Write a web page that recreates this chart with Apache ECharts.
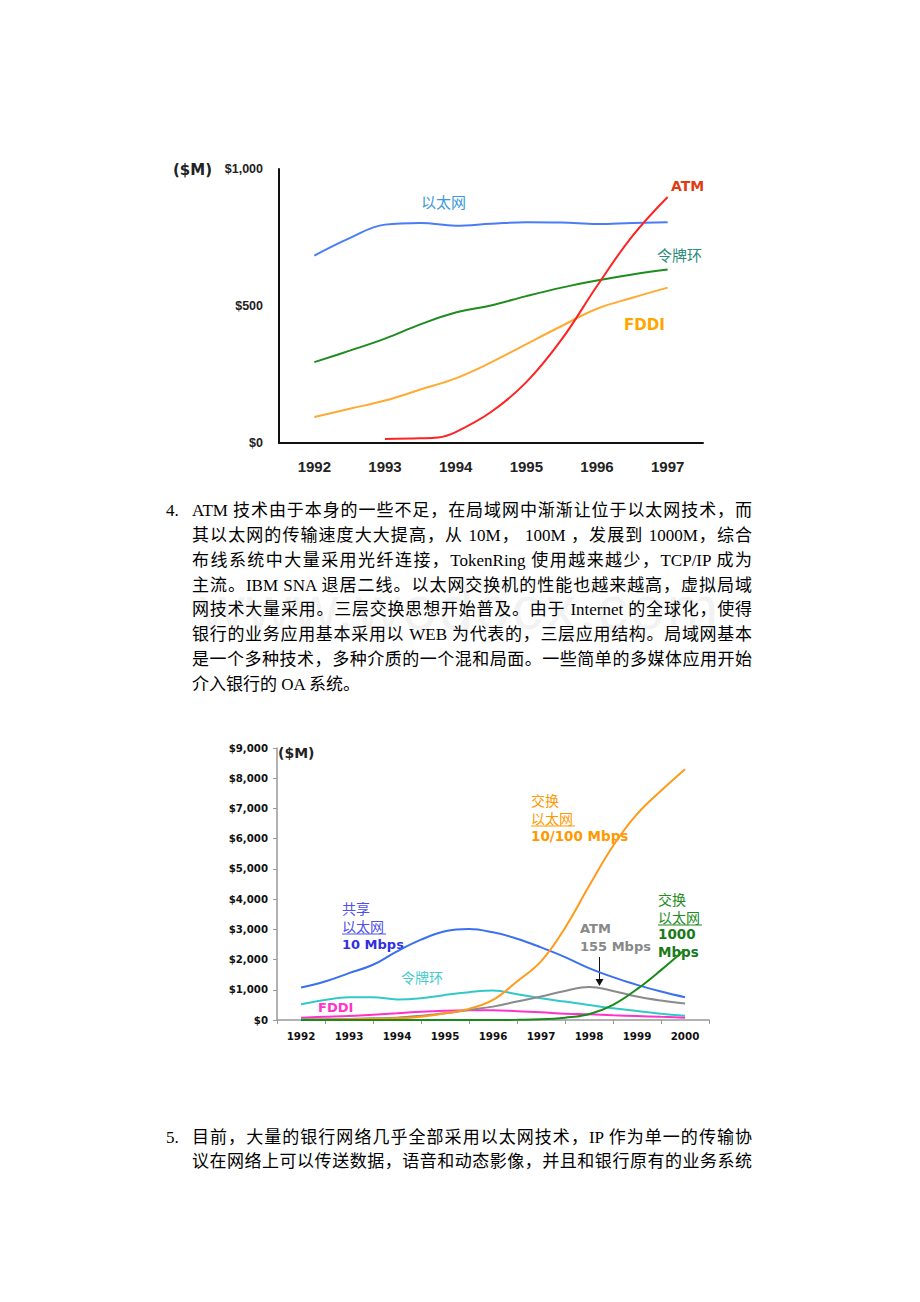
<!DOCTYPE html>
<html>
<head>
<meta charset="utf-8">
<script src="https://cdn.jsdelivr.net/npm/echarts@6/dist/echarts.min.js"></script>
<style>
html,body{margin:0;padding:0;background:#fff;}
#page{position:relative;width:920px;height:1302px;overflow:hidden;}
#chart{position:absolute;left:0;top:0;width:920px;height:1302px;}
.wm{position:absolute;left:0;width:920px;top:572px;text-align:center;font:62px "Liberation Sans",Arial,sans-serif;color:rgba(0,0,0,0.05);letter-spacing:2px;}
.para{position:absolute;left:192px;width:560px;font-family:"Liberation Serif","Noto Sans CJK SC",serif;font-size:17px;color:#000;}
.para div{text-align:justify;text-align-last:justify;}
.para div.last{text-align-last:left;}
.num{position:absolute;left:166px;font-family:"Liberation Serif",serif;font-size:17px;color:#000;}
</style>
</head>
<body>
<div id="page">
<div id="chart"></div>
<div class="wm">www.wodocx.com</div>
<div class="num" style="top:499px;line-height:24.86px;">4.</div>
<div class="para" id="p4" style="top:499px;line-height:24.86px;"></div>
<div class="num" style="top:1126px;line-height:24px;">5.</div>
<div class="para" id="p5" style="top:1126px;line-height:24px;"></div>
</div>
<script>
// ---------- text ----------
const para4Lines = [
  "ATM 技术由于本身的一些不足，在局域网中渐渐让位于以太网技术，而",
  "其以太网的传输速度大大提高，从 10M，  100M ，发展到 1000M，综合",
  "布线系统中大量采用光纤连接，TokenRing 使用越来越少，TCP/IP 成为",
  "主流。IBM SNA 退居二线。以太网交换机的性能也越来越高，虚拟局域",
  "网技术大量采用。三层交换思想开始普及。由于 Internet 的全球化，使得",
  "银行的业务应用基本采用以 WEB 为代表的，三层应用结构。局域网基本",
  "是一个多种技术，多种介质的一个混和局面。一些简单的多媒体应用开始",
  "介入银行的 OA 系统。"
];
const para5Lines = [
  "目前，大量的银行网络几乎全部采用以太网技术，IP 作为单一的传输协",
  "议在网络上可以传送数据，语音和动态影像，并且和银行原有的业务系统"
];
function fill(id, lines, lastIsShort){
  const el = document.getElementById(id);
  lines.forEach((t,i)=>{
    const d = document.createElement('div');
    d.textContent = t;
    if (lastIsShort && i === lines.length-1) d.className = 'last';
    el.appendChild(d);
  });
}
fill('p4', para4Lines, true);
fill('p5', para5Lines, false);

// ---------- chart 1 data ----------
const years1 = ['1992','1993','1994','1995','1996','1997'];
const yTicks1 = ['$0','$500','$1,000'];
const ethernet1 = [[1992,684],[1992.5,748],[1993,797],[1993.5,803],[1994,793],[1994.5,800],[1995,806],[1995.5,805],[1996,799],[1996.5,803],[1997,806]];
const tokenRing1 = [[1992,295],[1992.5,337],[1993,381],[1993.5,433],[1994,476],[1994.5,502],[1995,536],[1995.5,567],[1996,593],[1996.5,615],[1997,633]];
const fddi1 = [[1992,95],[1992.5,125],[1993,155],[1993.5,195],[1994,236],[1994.5,294],[1995,361],[1995.5,427],[1996,490],[1996.5,530],[1997,567]];
const atm1 = [[1993,15],[1993.5,17],[1993.75,20],[1994,40],[1994.5,113],[1995,222],[1995.5,378],[1996,573],[1996.5,755],[1997,898]];

// ---------- chart 2 data ----------
const years2 = ['1992','1993','1994','1995','1996','1997','1998','1999','2000'];
const yTicks2 = ['$0','$1,000','$2,000','$3,000','$4,000','$5,000','$6,000','$7,000','$8,000','$9,000'];
const shared10 = [[1992,1074],[1992.5,1273],[1993,1550],[1993.5,1827],[1994,2270],[1994.5,2658],[1995,2935],[1995.5,3012],[1996,2901],[1996.5,2691],[1997,2403],[1997.5,2082],[1998,1716],[1998.5,1417],[1999,1163],[1999.5,941],[2000,753]];
const tokenRing2 = [[1992,520],[1992.5,664],[1993,753],[1993.5,753],[1994,680],[1994.5,720],[1995,830],[1995.5,919],[1996,975],[1996.5,853],[1997,720],[1997.5,609],[1998,498],[1998.5,388],[1999,299],[1999.5,210],[2000,144]];
const fddi2 = [[1992,78],[1992.5,105],[1993,133],[1993.5,177],[1994,221],[1994.5,277],[1995,310],[1995.5,321],[1996,321],[1996.5,288],[1997,255],[1997.5,210],[1998,188],[1998.5,155],[1999,133],[1999.5,105],[2000,78]];
const atm2 = [[1992,22],[1992.5,27],[1993,33],[1993.5,55],[1994,78],[1994.5,140],[1995,221],[1995.5,332],[1996,443],[1996.5,609],[1997,775],[1997.5,963],[1998,1095],[1998.5,963],[1999,775],[1999.5,642],[2000,543]];
const switched100 = [[1992,0],[1992.5,10],[1993,22],[1993.5,38],[1994,55],[1994.5,111],[1995,221],[1995.5,365],[1996,664],[1996.5,1274],[1997,1938],[1997.5,3045],[1998,4430],[1998.5,5759],[1999,6811],[1999.5,7586],[2000,8300]];
const switched1000 = [[1992,0],[1993,0],[1994,0],[1995,0],[1996,0],[1996.5,5],[1997,22],[1997.5,78],[1998,188],[1998.5,500],[1999,1020],[1999.5,1650],[2000,2330]];

const FONT = 'DejaVu Sans';
const ARIAL = 'Liberation Sans';
const CJK = 'Noto Sans CJK SC';

function line(name, data, color, xi, yi, width){
  return {name, type:'line', data, xAxisIndex:xi, yAxisIndex:yi, smooth:0.4,
    showSymbol:false, symbol:'none', lineStyle:{color, width:width||2}, itemStyle:{color}, silent:true, animation:false};
}
function txt(text, x, y, fill, size, weight, family){
  return {type:'text', x, y, style:{text, fill, fontSize:size, fontWeight:weight||'normal', fontFamily:family||FONT, align:'left', verticalAlign:'middle'}, silent:true};
}
function uline(x1, x2, y, color){
  return {type:'line', shape:{x1, y1:y, x2, y2:y}, style:{stroke:color, lineWidth:1.2}, silent:true};
}

const chart = echarts.init(document.getElementById('chart'), null, {renderer:'svg', width:920, height:1302});
chart.setOption({
  animation:false,
  backgroundColor:'transparent',
  grid:[
    {left:279, top:169, width:424, height:274},
    {left:277, top:748, width:432, height:272}
  ],
  xAxis:[
    {type:'category', gridIndex:0, data:years1, boundaryGap:true,
      axisLine:{lineStyle:{color:'#111', width:2}}, axisTick:{show:false},
      axisLabel:{color:'#222', fontWeight:'bold', fontSize:15, fontFamily:ARIAL, margin:16}},
    {type:'value', gridIndex:0, min:1991.5, max:1997.5, show:false},
    {type:'category', gridIndex:1, data:years2, boundaryGap:true,
      axisLine:{lineStyle:{color:'#999', width:1.5}}, axisTick:{show:true, length:4, lineStyle:{color:'#999'}},
      axisLabel:{color:'#111', fontWeight:'bold', fontSize:10.3, fontFamily:FONT, margin:11}},
    {type:'value', gridIndex:1, min:1991.5, max:2000.5, show:false}
  ],
  yAxis:[
    {type:'value', gridIndex:0, min:0, max:1000, interval:500,
      axisLine:{show:true, lineStyle:{color:'#111', width:2}}, axisTick:{show:false}, splitLine:{show:false},
      axisLabel:{color:'#222', fontWeight:'bold', fontSize:12.5, fontFamily:ARIAL, margin:16,
        formatter:v=>yTicks1[Math.round(v/500)]}},
    {type:'value', gridIndex:1, min:0, max:9000, interval:1000,
      axisLine:{show:true, lineStyle:{color:'#999', width:1.5}}, axisTick:{show:true, length:4, lineStyle:{color:'#999'}}, splitLine:{show:false},
      axisLabel:{color:'#111', fontWeight:'bold', fontSize:10.2, fontFamily:FONT, margin:9,
        formatter:v=>yTicks2[Math.round(v/1000)]}}
  ],
  series:[
    line('以太网', ethernet1, '#4a7cf5', 1, 0),
    line('令牌环', tokenRing1, '#1e8c1e', 1, 0),
    line('FDDI', fddi1, '#ffaa33', 1, 0),
    line('ATM', atm1, '#ff2222', 1, 0),
    line('共享以太网 10 Mbps', shared10, '#3a70f0', 3, 1),
    line('令牌环', tokenRing2, '#33c8c8', 3, 1),
    line('FDDI', fddi2, '#ff33cc', 3, 1),
    line('ATM 155 Mbps', atm2, '#8a8a8a', 3, 1),
    line('交换以太网 10/100 Mbps', switched100, '#ff9a1a', 3, 1),
    line('交换以太网 1000 Mbps', switched1000, '#1a8a1a', 3, 1)
  ],
  graphic:[
    // chart 1 annotations
    txt('($M)', 173, 170, '#222', 15, 'bold'),
    txt('以太网', 421, 201, '#3a9ad9', 15, 'normal', CJK),
    txt('ATM', 671, 186, '#e03c14', 14, 'bold'),
    txt('令牌环', 657, 254, '#2a8c7a', 15, 'normal', CJK),
    txt('FDDI', 624, 325, '#ffa500', 15, 'bold'),
    // chart 2 annotations
    txt('($M)', 278, 753, '#222', 14, 'bold'),
    txt('交换', 531, 800, '#ff9900', 14, 'normal', CJK),
    txt('以太网', 531, 818, '#ff9900', 14, 'normal', CJK),
    uline(531, 575, 826, '#ff9900'),
    txt('10/100 Mbps', 531, 836, '#ff9900', 13.5, 'bold'),
    txt('共享', 342, 908, '#5050e8', 14, 'normal', CJK),
    txt('以太网', 342, 926, '#5050e8', 14, 'normal', CJK),
    uline(342, 386, 934, '#5050e8'),
    txt('10 Mbps', 342, 944, '#3030e0', 13, 'bold'),
    txt('ATM', 580, 928, '#888888', 13, 'bold'),
    txt('155 Mbps', 580, 946, '#888888', 13, 'bold'),
    {type:'line', shape:{x1:599.5, y1:957, x2:599.5, y2:981}, style:{stroke:'#111', lineWidth:1}, silent:true},
    {type:'polygon', shape:{points:[[595.5,979],[603.5,979],[599.5,986]]}, style:{fill:'#111'}, silent:true},
    txt('交换', 658, 899, '#228b22', 14, 'normal', CJK),
    txt('以太网', 658, 917, '#228b22', 14, 'normal', CJK),
    uline(658, 702, 925, '#228b22'),
    txt('1000', 658, 934, '#1a7a1a', 13.5, 'bold'),
    txt('Mbps', 658, 952, '#1a7a1a', 13.5, 'bold'),
    txt('令牌环', 401, 977, '#44cccc', 14, 'normal', CJK),
    txt('FDDI', 318, 1007, '#ff33cc', 13, 'bold')
  ]
});
</script>
</body>
</html>
